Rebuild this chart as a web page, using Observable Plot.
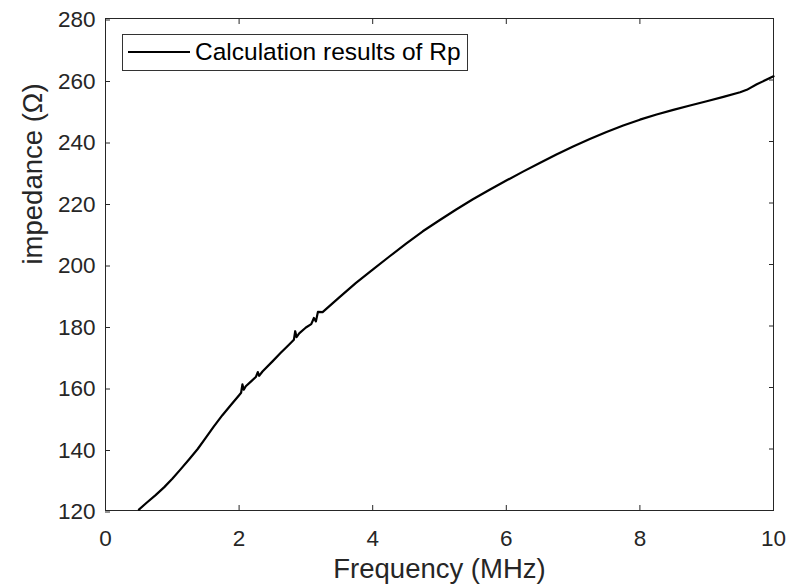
<!DOCTYPE html>
<html>
<head>
<meta charset="utf-8">
<script src="https://cdn.jsdelivr.net/npm/d3@7"></script>
<script src="https://cdn.jsdelivr.net/npm/@observablehq/plot@0.6"></script>
<style>
  html, body { margin: 0; padding: 0; background: #fff; }
  #wrap { position: relative; width: 792px; height: 586px; font-family: "Liberation Sans", Arial, sans-serif; }
  #legend { position: absolute; left: 122px; top: 34px; width: 346px; height: 37px; border: 1px solid #333; background: #fff; box-sizing: border-box; }
  #legend .sw { position: absolute; left: 5px; top: 15.5px; width: 62px; height: 2.5px; background: #000; }
  #legend .tx { position: absolute; left: 72px; top: 5px; font-size: 24.5px; line-height: 1; color: #000; white-space: nowrap; }
</style>
</head>
<body>
<div id="wrap">
  <div id="chart"></div>
  <div id="legend"><div class="sw"></div><div class="tx">Calculation results of Rp</div></div>
</div>
<script>
const seriesName = "Calculation results of Rp";
const frequency = [0.5, 0.62, 0.75, 0.88, 1.0, 1.12, 1.25, 1.38, 1.5, 1.62, 1.75, 1.88, 2.0, 2.03, 2.05, 2.07, 2.1, 2.18, 2.25, 2.28, 2.3, 2.35, 2.5, 2.62, 2.75, 2.82, 2.84, 2.86, 2.9, 3.0, 3.08, 3.12, 3.15, 3.18, 3.25, 3.5, 3.75, 4.0, 4.25, 4.5, 4.75, 5.0, 5.25, 5.5, 5.75, 6.0, 6.25, 6.5, 6.75, 7.0, 7.25, 7.5, 7.75, 8.0, 8.25, 8.5, 8.75, 9.0, 9.25, 9.5, 9.6, 9.75, 10.0];
const impedance = [120.3, 122.6, 125.0, 127.6, 130.3, 133.3, 136.6, 140.0, 143.6, 147.3, 151.0, 154.4, 157.5, 158.3, 161.0, 159.3, 160.4, 162.0, 163.4, 165.0, 163.8, 165.2, 168.5, 171.2, 174.0, 175.5, 178.3, 176.4, 177.6, 179.5, 180.6, 182.6, 181.5, 184.6, 184.5, 189.3, 194.0, 198.3, 202.6, 206.8, 210.8, 214.4, 217.9, 221.2, 224.3, 227.3, 230.2, 233.0, 235.8, 238.4, 240.8, 243.1, 245.2, 247.1, 248.8, 250.3, 251.7, 253.1, 254.5, 256.0, 256.8, 258.6, 261.2];
const xTicks = [0, 2, 4, 6, 8, 10];
const yTicks = [120, 140, 160, 180, 200, 220, 240, 260, 280];
const xLabel = "Frequency (MHz)";
const yLabel = "impedance (Ω)";

const data = frequency.map((f, i) => ({f, z: impedance[i]}));
const axisColor = "#262626";
const font = "Liberation Sans, Arial, sans-serif";

const chart = Plot.plot({
  width: 792,
  height: 586,
  marginLeft: 105,
  marginRight: 19,
  marginTop: 18,
  marginBottom: 76,
  style: {fontFamily: font, fontSize: "22.5px", color: axisColor, background: "#fff"},
  x: {domain: [0, 10], ticks: xTicks},
  y: {domain: [120, 280], ticks: yTicks},
  marks: [
    Plot.frame({stroke: axisColor, strokeWidth: 1}),
    Plot.axisX(xTicks, {anchor: "bottom", tickSize: -5, tickPadding: 24.5, stroke: axisColor, fill: axisColor, fontSize: 22.5, label: null}),
    Plot.axisX(xTicks, {anchor: "top", tickSize: -5, tickFormat: () => "", stroke: axisColor, label: null}),
    Plot.axisY(yTicks, {anchor: "left", tickSize: -5, tickPadding: 15, dy: 1.5, stroke: axisColor, fill: axisColor, fontSize: 22.5, label: null}),
    Plot.axisY(yTicks, {anchor: "right", tickSize: -5, tickFormat: () => "", stroke: axisColor, label: null}),
    Plot.text([xLabel], {frameAnchor: "bottom", dy: 67, text: d => d, fontSize: 27.5, fill: axisColor}),
    Plot.text([yLabel], {frameAnchor: "left", dx: -72, rotate: -90, text: d => d, fontSize: 27.5, fill: axisColor}),
    Plot.line(data, {x: "f", y: "z", stroke: "#000", strokeWidth: 2.2, curve: "linear"})
  ]
});
document.getElementById("chart").appendChild(chart);
</script>
</body>
</html>
